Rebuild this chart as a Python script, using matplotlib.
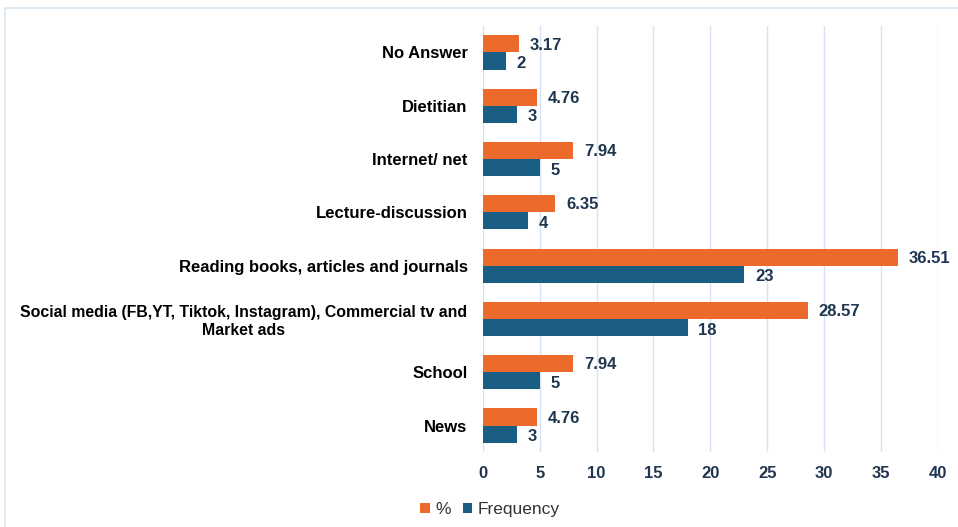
import matplotlib.pyplot as plt
import numpy as np
from matplotlib.patches import Rectangle

plt.rcParams['font.family'] = ['Liberation Sans', 'DejaVu Sans']

# data, top to bottom
categories = ["No Answer", "Dietitian", "Internet/ net", "Lecture-discussion",
              "Reading books, articles and journals",
              "Social media (FB,YT, Tiktok, Instagram), Commercial tv and\nMarket ads",
              "School", "News"]
percent = [3.17, 4.76, 7.94, 6.35, 36.51, 28.57, 7.94, 4.76]
frequency = [2, 3, 5, 4, 23, 18, 5, 3]
pct_labels = ["3.17", "4.76", "7.94", "6.35", "36.51", "28.57", "7.94", "4.76"]

orange = "#EC6A2C"
blue = "#1B5E84"
navy = "#1F3550"

fig = plt.figure(figsize=(9.58, 5.27), dpi=100)
ax = fig.add_axes([0.504, 0.142, 0.475, 0.809])

y = np.arange(len(categories))
h = 0.32
ax.barh(y - h / 2, percent, height=h, color=orange, label="%")
ax.barh(y + h / 2, frequency, height=h, color=blue, label="Frequency")

for yi, p, lab, f in zip(y, percent, pct_labels, frequency):
    ax.text(p + 0.95, yi - h / 2 + 0.02, lab, va="center", ha="left",
            fontsize=12, fontweight="bold", color=navy)
    ax.text(f + 0.95, yi + h / 2 + 0.05, str(f), va="center", ha="left",
            fontsize=12, fontweight="bold", color=navy)

ax.set_ylim(len(categories) - 0.5, -0.5)
ax.set_xlim(0, 40)
ax.set_xticks(range(0, 41, 5))
ax.set_yticks(y)
ax.set_yticklabels(categories, fontsize=12, fontweight="bold", ha="right",
                   multialignment="center")
# the long two-line label is set a bit smaller so it fits the left margin
ax.get_yticklabels()[5].set_fontsize(11.45)
ax.tick_params(axis="y", length=0, pad=11)
ax.tick_params(axis="x", length=0, pad=10, labelsize=12, labelcolor=navy)
for t in ax.get_xticklabels():
    t.set_fontweight("bold")

ax.grid(axis="x", color="#D5E3F4", linewidth=1)
ax.set_axisbelow(True)
for s in ax.spines.values():
    s.set_visible(False)

ax.legend(loc="center left", bbox_to_anchor=(-0.172, -0.135), ncol=2, frameon=False,
          fontsize=12.5, handlelength=0.55, handleheight=0.55, handletextpad=0.3,
          columnspacing=0.7, labelcolor="#333333")

# outer light border
fig.patches.append(Rectangle((0.005, -0.02), 1.1, 1.005, transform=fig.transFigure,
                             fill=False, edgecolor="#D8E6F5", linewidth=1.2))

fig.savefig("out.png", dpi=100)
